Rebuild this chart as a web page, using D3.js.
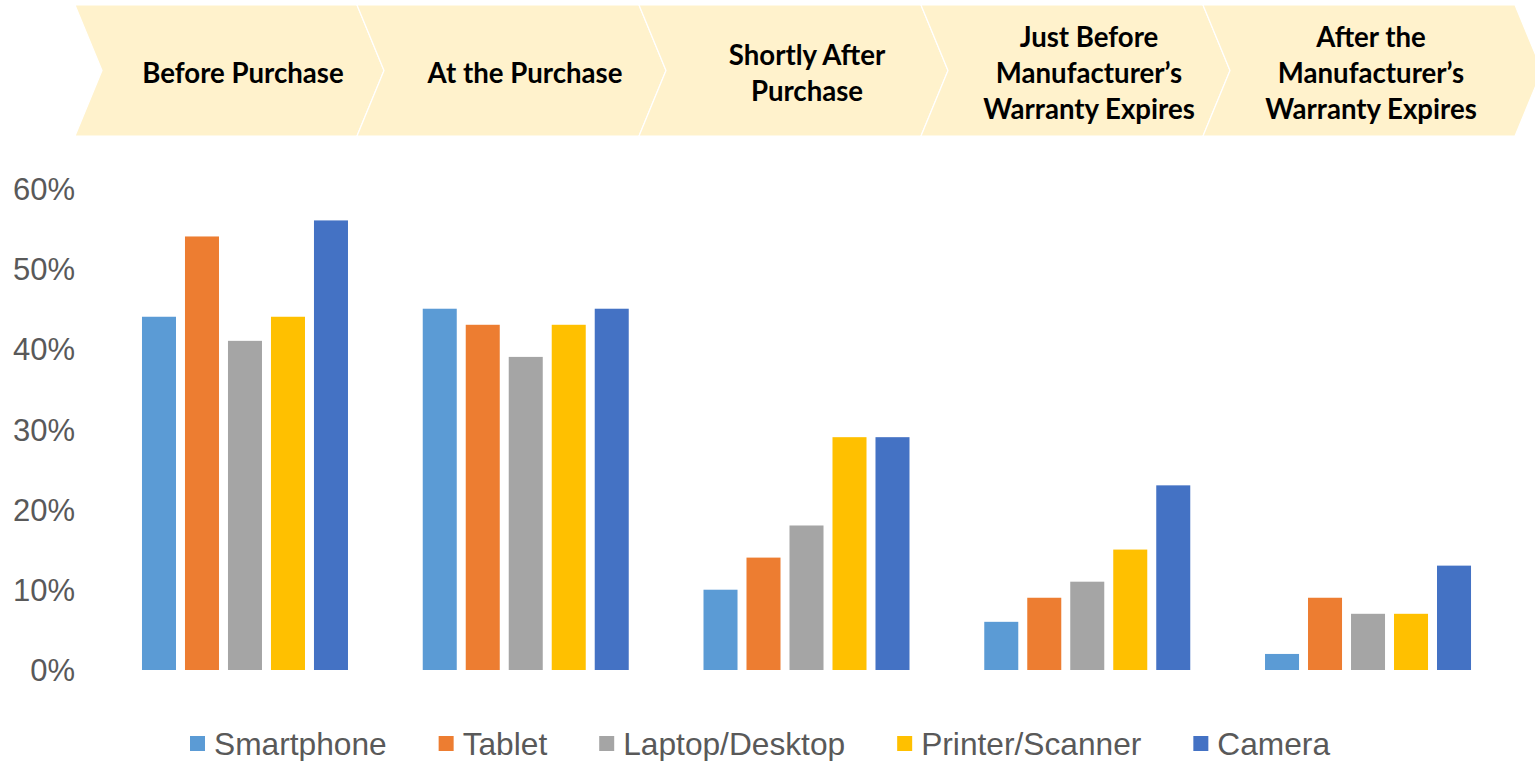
<!DOCTYPE html>
<html>
<head>
<meta charset="utf-8">
<script src="https://cdn.jsdelivr.net/npm/d3@7/dist/d3.min.js"></script>
<style>
  html, body { margin: 0; padding: 0; background: #ffffff; }
  svg { display: block; }
</style>
</head>
<body>
<svg id="chart" width="1535" height="761"></svg>
<script>
// Purchase-journey stages (one chevron and one bar group each)
const stages = [
  "Before Purchase",
  "At the Purchase",
  "Shortly After Purchase",
  "Just Before Manufacturer’s Warranty Expires",
  "After the Manufacturer’s Warranty Expires"
];
// How each stage label wraps inside its chevron
const stageLines = [
  ["Before Purchase"],
  ["At the Purchase"],
  ["Shortly After", "Purchase"],
  ["Just Before", "Manufacturer’s", "Warranty Expires"],
  ["After the", "Manufacturer’s", "Warranty Expires"]
];

// Device categories (series)
const series = ["Smartphone", "Tablet", "Laptop/Desktop", "Printer/Scanner", "Camera"];
const seriesColors = ["#5B9BD5", "#ED7D31", "#A5A5A5", "#FFC000", "#4472C4"];

// Share of respondents (%) per stage, one array per device
const smartphone = [44, 45, 10, 6, 2];
const tablet     = [54, 43, 14, 9, 9];
const laptop     = [41, 39, 18, 11, 7];
const printer    = [44, 43, 29, 15, 7];
const camera     = [56, 45, 29, 23, 13];
const seriesValues = [smartphone, tablet, laptop, printer, camera];

// Value axis ticks
const yTicks = [0, 10, 20, 30, 40, 50, 60];

const svg = d3.select("#chart");

// ---------- Chevron header ----------
const chevTop = 5, chevBottom = 136, chevMid = (chevTop + chevBottom) / 2, chevDepth = 27;
const chevX = d3.scaleBand().domain(stages).range([75, 1485]).padding(0);
const chevW = chevX.bandwidth();

const header = svg.append("g").attr("class", "header");
header.selectAll("path.chevron")
  .data(stages)
  .join("path")
  .attr("class", "chevron")
  .attr("d", (s, i) => {
    const x = chevX(s);
    const w = i === stages.length - 1 ? chevW + 30 : chevW;
    return `M${x},${chevTop} L${x + w},${chevTop} L${x + w + chevDepth},${chevMid} ` +
           `L${x + w},${chevBottom} L${x},${chevBottom} L${x + chevDepth},${chevMid} Z`;
  })
  .attr("fill", "#FFF2CC")
  .attr("stroke", "#ffffff")
  .attr("stroke-width", 1.2);

const lineGap = 36;
header.selectAll("text.stage")
  .data(stages)
  .join("text")
  .attr("class", "stage")
  .attr("text-anchor", "middle")
  .attr("font-family", "Lato, 'Open Sans', sans-serif")
  .attr("font-weight", 700)
  .attr("font-size", 27.6)
  .attr("fill", "#000000")
  .each(function (s, i) {
    const lines = stageLines[i];
    const cx = chevX(s) + chevDepth + chevW / 2;
    const t = d3.select(this);
    lines.forEach((ln, j) => {
      t.append("tspan")
        .attr("x", cx)
        .attr("y", 72 + (j - (lines.length - 1) / 2) * lineGap)
        .attr("dominant-baseline", "central")
        .text(ln);
    });
  });

// ---------- Bars ----------
const y = d3.scaleLinear().domain([0, 60]).range([670, 188.3]);
const x0 = d3.scaleBand().domain(stages).range([104.6, 1508.4]).padding(0);
const groupWidth = 206;
const x1 = d3.scaleBand().domain(series).range([0, groupWidth]).paddingInner(0.209).paddingOuter(0);

const groups = svg.append("g").attr("class", "bars")
  .selectAll("g")
  .data(stages)
  .join("g")
  .attr("transform", s => `translate(${x0(s) + (x0.bandwidth() - groupWidth) / 2},0)`);

groups.selectAll("rect")
  .data((s, i) => series.map((name, k) => ({ name, k, v: seriesValues[k][i] })))
  .join("rect")
  .attr("x", d => x1(d.name))
  .attr("width", x1.bandwidth())
  .attr("y", d => y(d.v))
  .attr("height", d => y(0) - y(d.v))
  .attr("fill", d => seriesColors[d.k]);

// ---------- Y axis ----------
const yAxis = d3.axisLeft(y)
  .tickValues(yTicks)
  .tickFormat(d => d + "%")
  .tickSize(0)
  .tickPadding(0);

const yg = svg.append("g")
  .attr("transform", "translate(75,0)")
  .call(yAxis);
yg.select(".domain").remove();
yg.selectAll("text")
  .attr("font-family", "Arial, 'Liberation Sans', sans-serif")
  .attr("font-size", 31)
  .attr("fill", "#595959")
  .attr("dy", "0.35em");

// ---------- Legend ----------
const legend = svg.append("g").attr("class", "legend");
let lx = 190;
series.forEach((name, k) => {
  const item = legend.append("g").attr("transform", `translate(${lx},0)`);
  item.append("rect")
    .attr("x", 0).attr("y", 736)
    .attr("width", 15).attr("height", 15)
    .attr("fill", seriesColors[k]);
  const t = item.append("text")
    .attr("x", 24).attr("y", 743.5)
    .attr("dominant-baseline", "central")
    .attr("font-family", "Arial, 'Liberation Sans', sans-serif")
    .attr("font-size", 31.7)
    .attr("fill", "#595959")
    .text(name);
  lx += 24 + t.node().getComputedTextLength() + 52;
});
</script>
</body>
</html>
